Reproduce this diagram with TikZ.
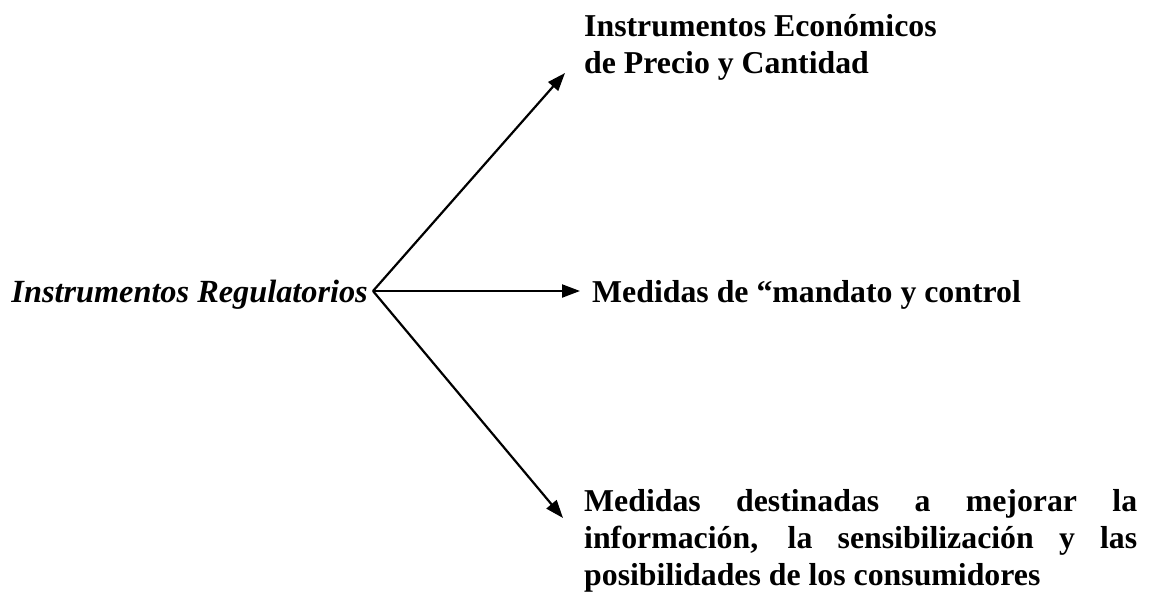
\documentclass[tikz,border=0pt]{standalone}
\usepackage{fontspec}
\setmainfont{Liberation Serif}
\usetikzlibrary{arrows.meta}

\begin{document}
\begin{tikzpicture}[x=1pt, y=-1pt,
  lbl/.style={inner sep=0pt, font=\fontsize{31.8}{37}\selectfont\bfseries},
  flecha/.style={line width=2.2pt, -{Triangle[length=18pt, width=13pt]}}]
\useasboundingbox (0,0) rectangle (1156,595);
\coordinate (hub) at (373,291);
\node[lbl, font=\fontsize{32.3}{37}\selectfont\bfseries\itshape, anchor=base east] (reg) at (368,302) {Instrumentos Regulatorios};
\node[lbl, anchor=base west, align=left] (eco) at (584,73) {Instrumentos Económicos\\de Precio y Cantidad};
\node[lbl, anchor=base west] (mand) at (592,302) {Medidas de “mandato y control};
\node[lbl, anchor=base west, text width=553pt, align=justify] (info) at (584,511)
  {Medidas destinadas a mejorar la\linebreak información, la sensibilización y las\linebreak posibilidades de los consumidores};
% puntas de las flechas
\coordinate (t1) at (565,73);
\coordinate (t2) at (580,291);
\coordinate (t3) at (563,518);
\draw[flecha] (hub) -- (t1);
\draw[flecha] (hub) -- (t2);
\draw[flecha] (hub) -- (t3);
\end{tikzpicture}
\end{document}
